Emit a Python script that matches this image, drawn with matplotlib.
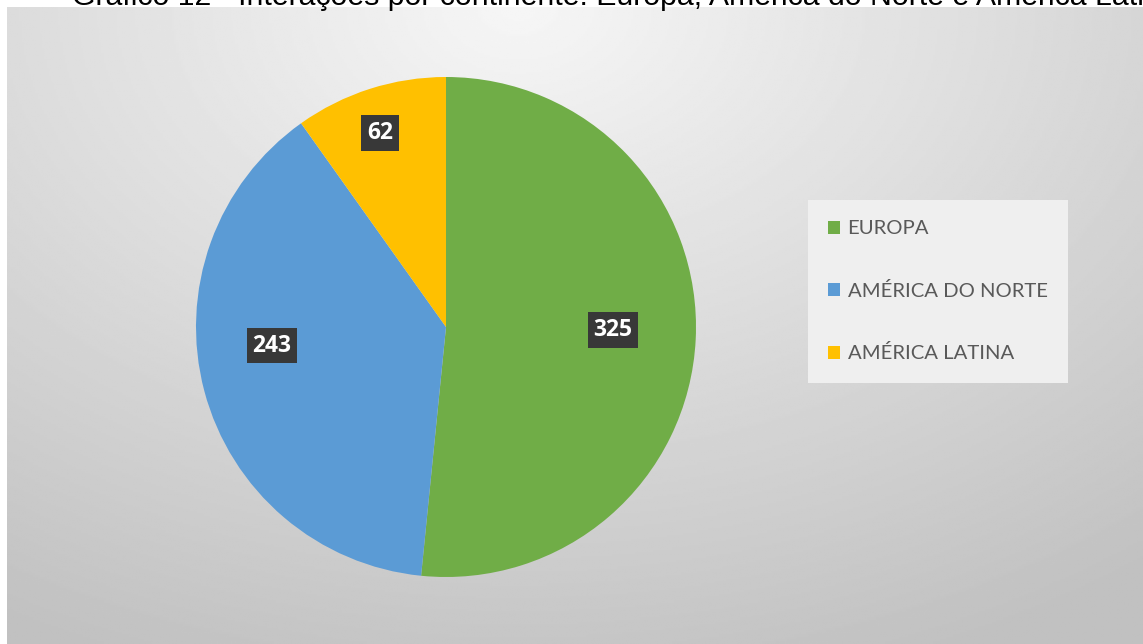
import numpy as np
import matplotlib
matplotlib.use("Agg")
import matplotlib.pyplot as plt
from matplotlib.patches import Patch

title = "Gráfico 12 - Interações por continente: Europa, América do Norte e América Latina"
categories = ["EUROPA", "AMÉRICA DO NORTE", "AMÉRICA LATINA"]
values = [325, 243, 62]
colors = ["#70ad47", "#5b9bd5", "#ffc000"]
label_radius = [0.668, 0.70, 0.82]
label_angle_shift = [1.8, -8.7, 1.1]

W, H = 1143, 644
fig = plt.figure(figsize=(W / 100, H / 100), dpi=100)
fig.patch.set_facecolor("white")

# gradient background panel
bg = fig.add_axes([7 / W, 0, (W - 7) / W, (H - 7) / H])
yy, xx = np.mgrid[0:1:300j, 0:1:500j]
d = np.sqrt(((xx - 0.45) * 1.1) ** 2 + ((yy - 0.0) * 0.9) ** 2)
img = 0.965 - 0.21 * np.clip(d, 0, 1)
bg.imshow(img, cmap="gray", vmin=0, vmax=1, aspect="auto", extent=[0, 1, 1, 0])
bg.set_axis_off()

# title (clipped at top as in reference)
fig.text(72 / W, 1 - 5 / H, title, ha="left", va="baseline",
         fontsize=21.8, family="Liberation Sans", color="black")

cx, cy, R = 446, 327, 250
ax = fig.add_axes([(cx - R) / W, (H - cy - R) / H, 2 * R / W, 2 * R / H])
wedges, _ = ax.pie(values, colors=colors, startangle=90, counterclock=False,
                   radius=1, wedgeprops=dict(linewidth=0))
ax.set_xlim(-1, 1)
ax.set_ylim(-1, 1)
ax.set_aspect("auto")

for w, v, r, s in zip(wedges, values, label_radius, label_angle_shift):
    ang = np.deg2rad((w.theta1 + w.theta2) / 2 + s)
    ax.text(r * np.cos(ang), r * np.sin(ang), str(v), ha="center", va="center",
            fontsize=16.5, fontweight="bold", color="white", family="Open Sans",
            bbox=dict(boxstyle="square,pad=0.25", facecolor="#383838", edgecolor="none"))

handles = [Patch(facecolor=c, edgecolor="none") for c in colors]
leg = fig.legend(handles, categories, loc="upper left",
                 bbox_to_anchor=(808 / W, 1 - 200 / H), frameon=True,
                 prop=dict(family="Lato", size=14.6),
                 handlelength=0.6, handleheight=0.6, handletextpad=0.35,
                 labelspacing=2.2, borderpad=1.0, borderaxespad=0)
frame = leg.get_frame()
frame.set_facecolor("#efefef")
frame.set_edgecolor("none")
frame.set_alpha(1)
frame.set_boxstyle("square,pad=0")
for t in leg.get_texts():
    t.set_color("#595959")

fig.savefig("out.png", dpi=100)
